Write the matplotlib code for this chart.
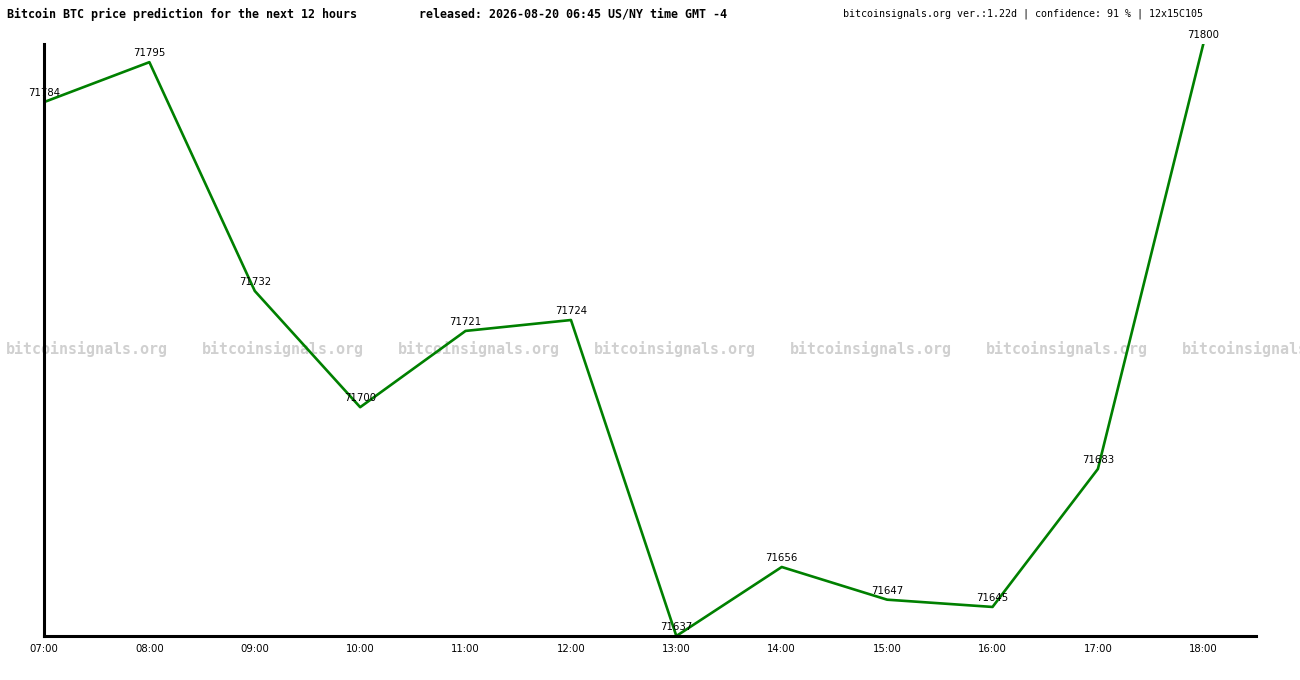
import matplotlib
matplotlib.use('Agg')
import matplotlib.pyplot as plt

# predicted hourly prices
hours = ['07:00', '08:00', '09:00', '10:00', '11:00', '12:00',
         '13:00', '14:00', '15:00', '16:00', '17:00', '18:00']
prices = [71784, 71795, 71732, 71700, 71721, 71724,
          71637, 71656, 71647, 71645, 71683, 71800]

title_left = 'Bitcoin BTC price prediction for the next 12 hours'
title_mid = 'released: 2026-08-20 06:45 US/NY time GMT -4'
title_right = 'bitcoinsignals.org ver.:1.22d | confidence: 91 % | 12x15C105'
watermark = 'bitcoinsignals.org'

mono = 'DejaVu Sans Mono'

fig = plt.figure(figsize=(13, 6.8), dpi=100)
ax = fig.add_axes([44 / 1300, 1 - 636 / 680, (1256 - 44) / 1300, (636 - 44) / 680])
ax.patch.set_alpha(0)

# repeated watermark behind the chart (last copy runs off the right edge, as in the original)
for x0 in range(6, 1300, 196):
    fig.text(x0 / 1300, 1 - 349 / 680, watermark, family=mono, weight='bold',
             fontsize=10.8, color='#d0d0d0', ha='left', va='center', zorder=-5)

xs = list(range(len(prices)))
ax.plot(xs, prices, color='#008000', lw=1.9, zorder=3)
for x, p in zip(xs, prices):
    ax.annotate(str(p), (x, p), xytext=(0, 3), textcoords='offset points',
                ha='center', va='bottom', fontsize=7.3, color='black', zorder=4,
                annotation_clip=False)

ax.set_xlim(0, 11.5)
ax.set_ylim(min(prices), max(prices))
ax.set_xticks(xs)
ax.set_xticklabels(hours, fontsize=7.3)
ax.set_yticks([])
ax.tick_params(axis='x', length=0, pad=6)
for s in ['top', 'right']:
    ax.spines[s].set_visible(False)
for s in ['left', 'bottom']:
    ax.spines[s].set_linewidth(2.2)
    ax.spines[s].set_zorder(5)

fig.text(7 / 1300, 1 - 14 / 680, title_left, family=mono, weight='bold',
         fontsize=8.4, ha='left', va='center')
fig.text(419 / 1300, 1 - 14 / 680, title_mid, family=mono, weight='bold',
         fontsize=8.4, ha='left', va='center')
fig.text(843 / 1300, 1 - 14 / 680, title_right, family=mono,
         fontsize=7.2, ha='left', va='center')

fig.savefig('out.png', dpi=100, facecolor='white')
